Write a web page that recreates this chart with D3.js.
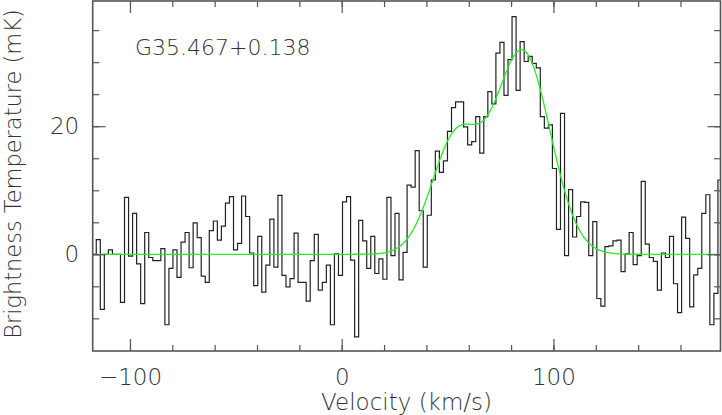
<!DOCTYPE html>
<html>
<head>
<meta charset="utf-8">
<script src="https://cdn.jsdelivr.net/npm/d3@7"></script>
<style>
  html, body { margin: 0; padding: 0; background: #fff; }
  svg { display: block; }
  text { font-family: "DejaVu Sans", "Liberation Sans", sans-serif; font-weight: 200; fill: #333; }
</style>
</head>
<body>
<svg id="chart" width="722" height="415"></svg>
<script>
// ---- data ----
const sourceName = "G35.467+0.138";
const xLabel = "Velocity (km/s)";
const yLabel = "Brightness Temperature (mK)";
// spectral channel grid (centre of first channel, channel width, km/s)
const chanStart = -116.87;
const chanWidth = 1.9065;
// brightness temperature per channel (mK)
const tb = [
  0.0, 2.3, -8.6, 0.0, 0.7, 0.0, 0.0, -7.5, 8.9, -0.3,
  6.4, -1.5, -7.7, 3.4, -0.5, -1.0, -1.0, 0.9, -11.0, -2.2,
  0.7, -3.6, 1.9, 3.4, -2.1, 4.9, 2.6, -3.4, -4.4, 3.7,
  5.2, 2.2, 4.4, 8.0, 9.0, 0.7, 1.7, 9.1, 5.9, 0.2,
  -4.9, 2.8, -5.9, -1.7, 5.5, -2.0, 9.2, -3.3, -5.1, -3.8,
  3.3, -4.4, -4.4, -7.3, -1.0, 3.1, -5.6, -4.4, -1.7, -11.0,
  0.05, -3.3, 8.2, 9.0, -0.9, -12.9, 5.3, 2.1, -2.2, 2.8,
  -3.0, -0.7, -3.9, 8.9, -0.2, 6.4, -4.0, 0.3, 10.8, 10.5,
  16.2, 6.8, -2.0, 6.1, 11.6, 16.1, 12.8, 14.6, 19.2, 22.9,
  23.8, 23.8, 19.9, 17.1, 17.6, 21.5, 15.8, 21.5, 25.4, 23.5,
  31.4, 33.1, 24.8, 30.4, 37.1, 25.6, 33.2, 30.1, 30.9, 29.8,
  29.1, 21.5, 19.7, 20.2, 13.4, 3.9, 22.0, -0.2, 10.1, 2.7,
  5.9, 8.2, 8.1, -0.2, 5.1, -6.9, -8.1, 1.2, 1.3, 2.1,
  2.2, -2.7, 0.05, 3.4, -1.6, -0.2, 11.4, 1.6, -0.5, -1.1,
  -5.6, 0.2, -0.5, 2.8, -4.6, -9.1, 5.8, 2.5, -8.2, -3.2,
  -2.2, 6.4, 9.3, -11.0, -6.1, 11.6
];
// two-component Gaussian fit (mK, km/s, km/s)
const fitAmp = [18.0, 31.5];
const fitCenter = [54.0, 85.5];
const fitSigma = [11.5, 13.0];
// axes
const xDomain = [-117.6, 178.9];
const yDomain = [-15.1, 39.55];
const xMajorTicks = [-100, 0, 100];
const xMinorTicks = [-100, -80, -60, -40, -20, 0, 20, 40, 60, 80, 100, 120, 140, 160];
const yMajorTicks = [0, 20];
const yMinorTicks = [-10, -5, 0, 5, 10, 15, 20, 25, 30, 35];

// ---- layout ----
const W = 722, H = 415;
const m = { left: 92.7, right: 1.5, top: 1, bottom: 64 };
const iw = W - m.left - m.right, ih = H - m.top - m.bottom;

const svg = d3.select("#chart");
const g = svg.append("g").attr("transform", `translate(${m.left},${m.top})`);

const x = d3.scaleLinear().domain(xDomain).range([0, iw]);
const y = d3.scaleLinear().domain(yDomain).range([ih, 0]);

svg.append("defs").append("clipPath").attr("id", "clip")
  .append("rect").attr("width", iw).attr("height", ih);

// histogram (step) data: left edge of each channel, plus closing edge
const steps = tb.map((v, i) => ({ v: chanStart + (i - 0.5) * chanWidth, t: v }));
steps.push({ v: chanStart + (tb.length - 0.5) * chanWidth, t: tb[tb.length - 1] });

const plot = g.append("g").attr("clip-path", "url(#clip)");

plot.append("path")
  .datum(steps)
  .attr("fill", "none")
  .attr("stroke", "#222")
  .attr("stroke-width", 1.2)
  .attr("d", d3.line().x(d => x(d.v)).y(d => y(d.t)).curve(d3.curveStepAfter));

// Gaussian fit curve
const fitV = d3.range(xDomain[0], xDomain[1] + 0.25, 0.25);
const fit = fitV.map(v => ({
  v,
  t: d3.sum(fitAmp, (a, i) => a * Math.exp(-((v - fitCenter[i]) ** 2) / (2 * fitSigma[i] ** 2)))
}));
plot.append("path")
  .datum(fit)
  .attr("fill", "none")
  .attr("stroke", "#22ee22")
  .attr("stroke-width", 1.3)
  .attr("d", d3.line().x(d => x(d.v)).y(d => y(d.t)));

// ---- axes (ticks inward on all four sides) ----
const tickColor = "#555";
function styleAxis(sel) {
  sel.select(".domain").remove();
  sel.selectAll(".tick line").attr("stroke", tickColor).attr("stroke-width", 1.2);
  sel.selectAll(".tick text").attr("fill", "#333").style("font-size", "23px");
}
const fmt = d3.format("");

g.append("g").attr("transform", `translate(0,${ih})`)
  .call(d3.axisBottom(x).tickValues(xMinorTicks).tickSize(-6).tickFormat(""))
  .call(styleAxis);
g.append("g").attr("transform", `translate(0,${ih})`)
  .call(d3.axisBottom(x).tickValues(xMajorTicks).tickSizeInner(-12).tickSizeOuter(0).tickPadding(17.5).tickFormat(fmt))
  .call(styleAxis);
g.append("g")
  .call(d3.axisTop(x).tickValues(xMinorTicks).tickSize(-6).tickFormat(""))
  .call(styleAxis);
g.append("g")
  .call(d3.axisTop(x).tickValues(xMajorTicks).tickSize(-12).tickFormat(""))
  .call(styleAxis);

g.append("g")
  .call(d3.axisLeft(y).tickValues(yMinorTicks).tickSize(-6.5).tickFormat(""))
  .call(styleAxis);
g.append("g")
  .call(d3.axisLeft(y).tickValues(yMajorTicks).tickSizeInner(-13).tickSizeOuter(0).tickPadding(13.5).tickFormat(fmt))
  .call(styleAxis);
g.append("g").attr("transform", `translate(${iw},0)`)
  .call(d3.axisRight(y).tickValues(yMinorTicks).tickSize(-6.5).tickFormat(""))
  .call(styleAxis);
g.append("g").attr("transform", `translate(${iw},0)`)
  .call(d3.axisRight(y).tickValues(yMajorTicks).tickSize(-13).tickFormat(""))
  .call(styleAxis);

// frame
g.append("rect")
  .attr("width", iw).attr("height", ih)
  .attr("fill", "none").attr("stroke", tickColor).attr("stroke-width", 1.6);

// labels
svg.append("text")
  .attr("x", m.left + iw / 2).attr("y", 409.5)
  .attr("text-anchor", "middle").style("font-size", "23px")
  .text(xLabel);

svg.append("text")
  .attr("transform", `translate(21,174) rotate(-90)`)
  .attr("text-anchor", "middle").style("font-size", "22.5px")
  .text(yLabel);

g.append("text")
  .attr("x", 135 - m.left).attr("y", 55 - m.top)
  .style("font-size", "22px")
  .text(sourceName);
</script>
</body>
</html>
